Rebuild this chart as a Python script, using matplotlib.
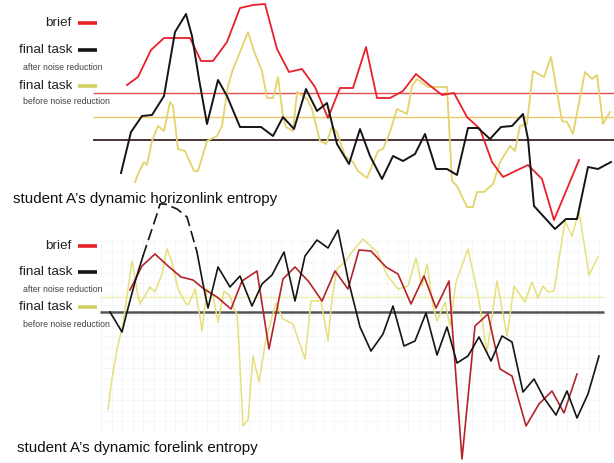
import matplotlib
matplotlib.use("Agg")
import matplotlib.pyplot as plt
import numpy as np

plt.rcParams['font.family'] = ['Liberation Sans', 'DejaVu Sans']

# ---------------- upper panel: dynamic horizonlink entropy ----------------
up_brief_x = [127,138,151,164,190,201,213,227,240,253,265,277,289,302,315,328,340,353,366,377,390,403,416,428,442,454,467,480,492,503,528,542,554,579]
up_brief_y = [86,78,51,39,39,62,62,43,9,6,5,50,73,70,88,119,89,89,48,99,99,92,75,85,96,94,118,130,163,178,166,180,221,161]

up_after_x = [121,131,142,152,164,175,186,192,199,207,218,227,240,261,273,283,294,306,317,327,337,349,360,370,382,393,403,415,425,436,447,457,468,478,490,501,512,523,528,534,555,566,577,588,598,611]
up_after_y = [174,133,117,116,97,33,15,37,80,125,81,97,128,128,137,118,130,90,112,104,145,165,130,157,180,157,162,155,135,170,170,176,129,129,140,128,127,115,140,207,230,220,220,168,170,163]

up_before_x = [135,139,144,147,152,158,164,170,173,178,185,194,198,207,217,222,228,233,238,248,255,262,267,273,278,283,286,293,297,307,312,320,326,332,337,345,353,358,367,378,383,390,397,407,412,417,428,447,452,457,467,473,477,484,493,500,510,515,520,527,533,544,551,562,567,573,585,592,597,603,610]
up_before_y = [183,173,163,166,142,127,132,103,107,150,152,172,172,142,137,127,87,70,58,33,55,72,99,99,78,117,128,132,93,100,110,142,145,128,133,157,163,172,179,152,150,133,110,115,87,80,88,88,182,187,208,208,193,193,185,163,147,152,127,125,72,78,58,122,123,135,73,80,76,125,113]

up_ref_brief = 94
up_ref_before = 118
up_ref_after = 141

# ---------------- lower panel: dynamic forelink entropy ----------------
lo_brief_x = [130,142,155,168,181,193,204,217,231,242,257,269,283,295,309,322,335,348,359,371,386,398,411,424,436,449,452,462,475,488,500,512,526,539,552,564,577]
lo_brief_y = [291,267,255,267,278,281,290,298,310,282,272,350,280,268,283,302,272,290,251,252,268,275,305,277,309,282,324,460,327,315,370,377,427,405,392,414,375]

lo_after_x = [110,122,127,135,143,152,157,160,165,177,187,197,203,208,218,230,240,252,262,272,284,295,305,317,328,338,348,360,371,383,393,404,415,426,437,447,457,468,479,491,502,512,523,534,544,556,567,577,588,599]
lo_after_y = [313,333,313,283,257,230,215,205,205,210,218,253,285,309,268,288,277,307,285,276,253,302,257,241,249,231,280,328,352,335,307,347,342,314,356,328,364,357,338,362,337,343,393,380,399,416,392,419,395,357]

lo_before_x = [108,112,117,123,132,134,137,140,150,155,162,167,172,178,186,189,195,200,202,207,213,218,224,230,234,237,239,243,248,253,259,266,276,283,293,305,311,321,328,332,337,345,352,363,377,387,398,408,416,422,427,433,437,445,450,456,468,478,487,497,507,514,525,532,538,543,548,554,565,572,579,589,598]
lo_before_y = [410,380,350,325,262,272,292,305,288,293,275,250,263,290,305,305,290,318,332,290,297,323,292,297,310,315,347,427,421,357,383,340,304,320,325,360,302,302,342,300,270,263,253,240,253,276,290,287,259,287,265,307,322,303,327,283,250,296,353,282,337,287,303,283,299,287,293,292,222,237,212,276,258]

lo_ref_before = 298
lo_ref_after = 313

legend_labels = ["brief", "final task", "final task"]
legend_notes = ["after noise reduction", "before noise reduction"]
titles = ["student A\u2019s dynamic horizonlink entropy", "student A\u2019s dynamic forelink entropy"]

RED = "#e8202a"
BLACK = "#141414"
YELLOW = "#e2d46a"
LO_RED = "#b3242a"
LO_YELLOW = "#e6e07a"

fig = plt.figure(figsize=(6.14, 4.64), dpi=100)
ax = fig.add_axes([0, 0, 1, 1])
ax.set_xlim(0, 614)
ax.set_ylim(464, 0)
ax.axis('off')

# faint grid of lower panel
ax.vlines(np.arange(101, 602, 10.6), 238, 432, color="#f5f5f5", lw=0.6, zorder=0)
ax.hlines(np.arange(242, 432, 10.6), 100, 602, color="#f5f5f5", lw=0.6, zorder=0)

# upper reference lines
ax.hlines(up_ref_brief, 93, 614, color="#e05050", lw=1.0, zorder=1)
ax.hlines(up_ref_before, 93, 614, color="#e8c868", lw=1.0, zorder=1)
ax.hlines(up_ref_after, 93, 614, color="#4a3434", lw=1.4, zorder=1)

# lower reference lines
ax.hlines(lo_ref_before, 100, 604, color="#eeeeb0", lw=1.0, zorder=1)
ax.hlines(lo_ref_after, 100, 604, color="#555555", lw=1.8, zorder=1)

# upper series
ax.plot(up_before_x, up_before_y, color=YELLOW, lw=1.3, zorder=2)
ax.plot(up_brief_x, up_brief_y, color=RED, lw=1.3, zorder=3)
ax.plot(up_after_x, up_after_y, color=BLACK, lw=1.4, zorder=4)

# lower series
ax.plot(lo_before_x, lo_before_y, color=LO_YELLOW, lw=1.1, zorder=2)
ax.plot(lo_brief_x, lo_brief_y, color=LO_RED, lw=1.2, zorder=3)
ax.plot(lo_after_x[:5], lo_after_y[:5], color=BLACK, lw=1.2, zorder=4)
ax.plot(lo_after_x[4:12], lo_after_y[4:12], color=BLACK, lw=1.2, ls=(0, (7, 3)), zorder=4)
ax.plot(lo_after_x[11:], lo_after_y[11:], color=BLACK, lw=1.2, zorder=4)

# legends
def legend(y_rows, note_rows):
    cols = [RED, BLACK, "#d4d060"]
    for lab, yy, c in zip(legend_labels, y_rows, cols):
        ax.text(72, yy, lab, ha='right', va='center', fontsize=9.7, color="#222222")
        ax.plot([78, 97], [yy + 1, yy + 1], color=c, lw=2.6, solid_capstyle='butt')
    for note, yy in zip(legend_notes, note_rows):
        ax.text(23, yy, note, ha='left', va='center', fontsize=6.3, color="#444444")

legend([23, 50, 86], [67, 102])
legend([246, 272, 307], [290, 325])

ax.text(13, 199, titles[0], ha='left', va='center', fontsize=10.9, color="#111111")
ax.text(17, 448, titles[1], ha='left', va='center', fontsize=10.9, color="#111111")

fig.savefig("out.png", dpi=100)
